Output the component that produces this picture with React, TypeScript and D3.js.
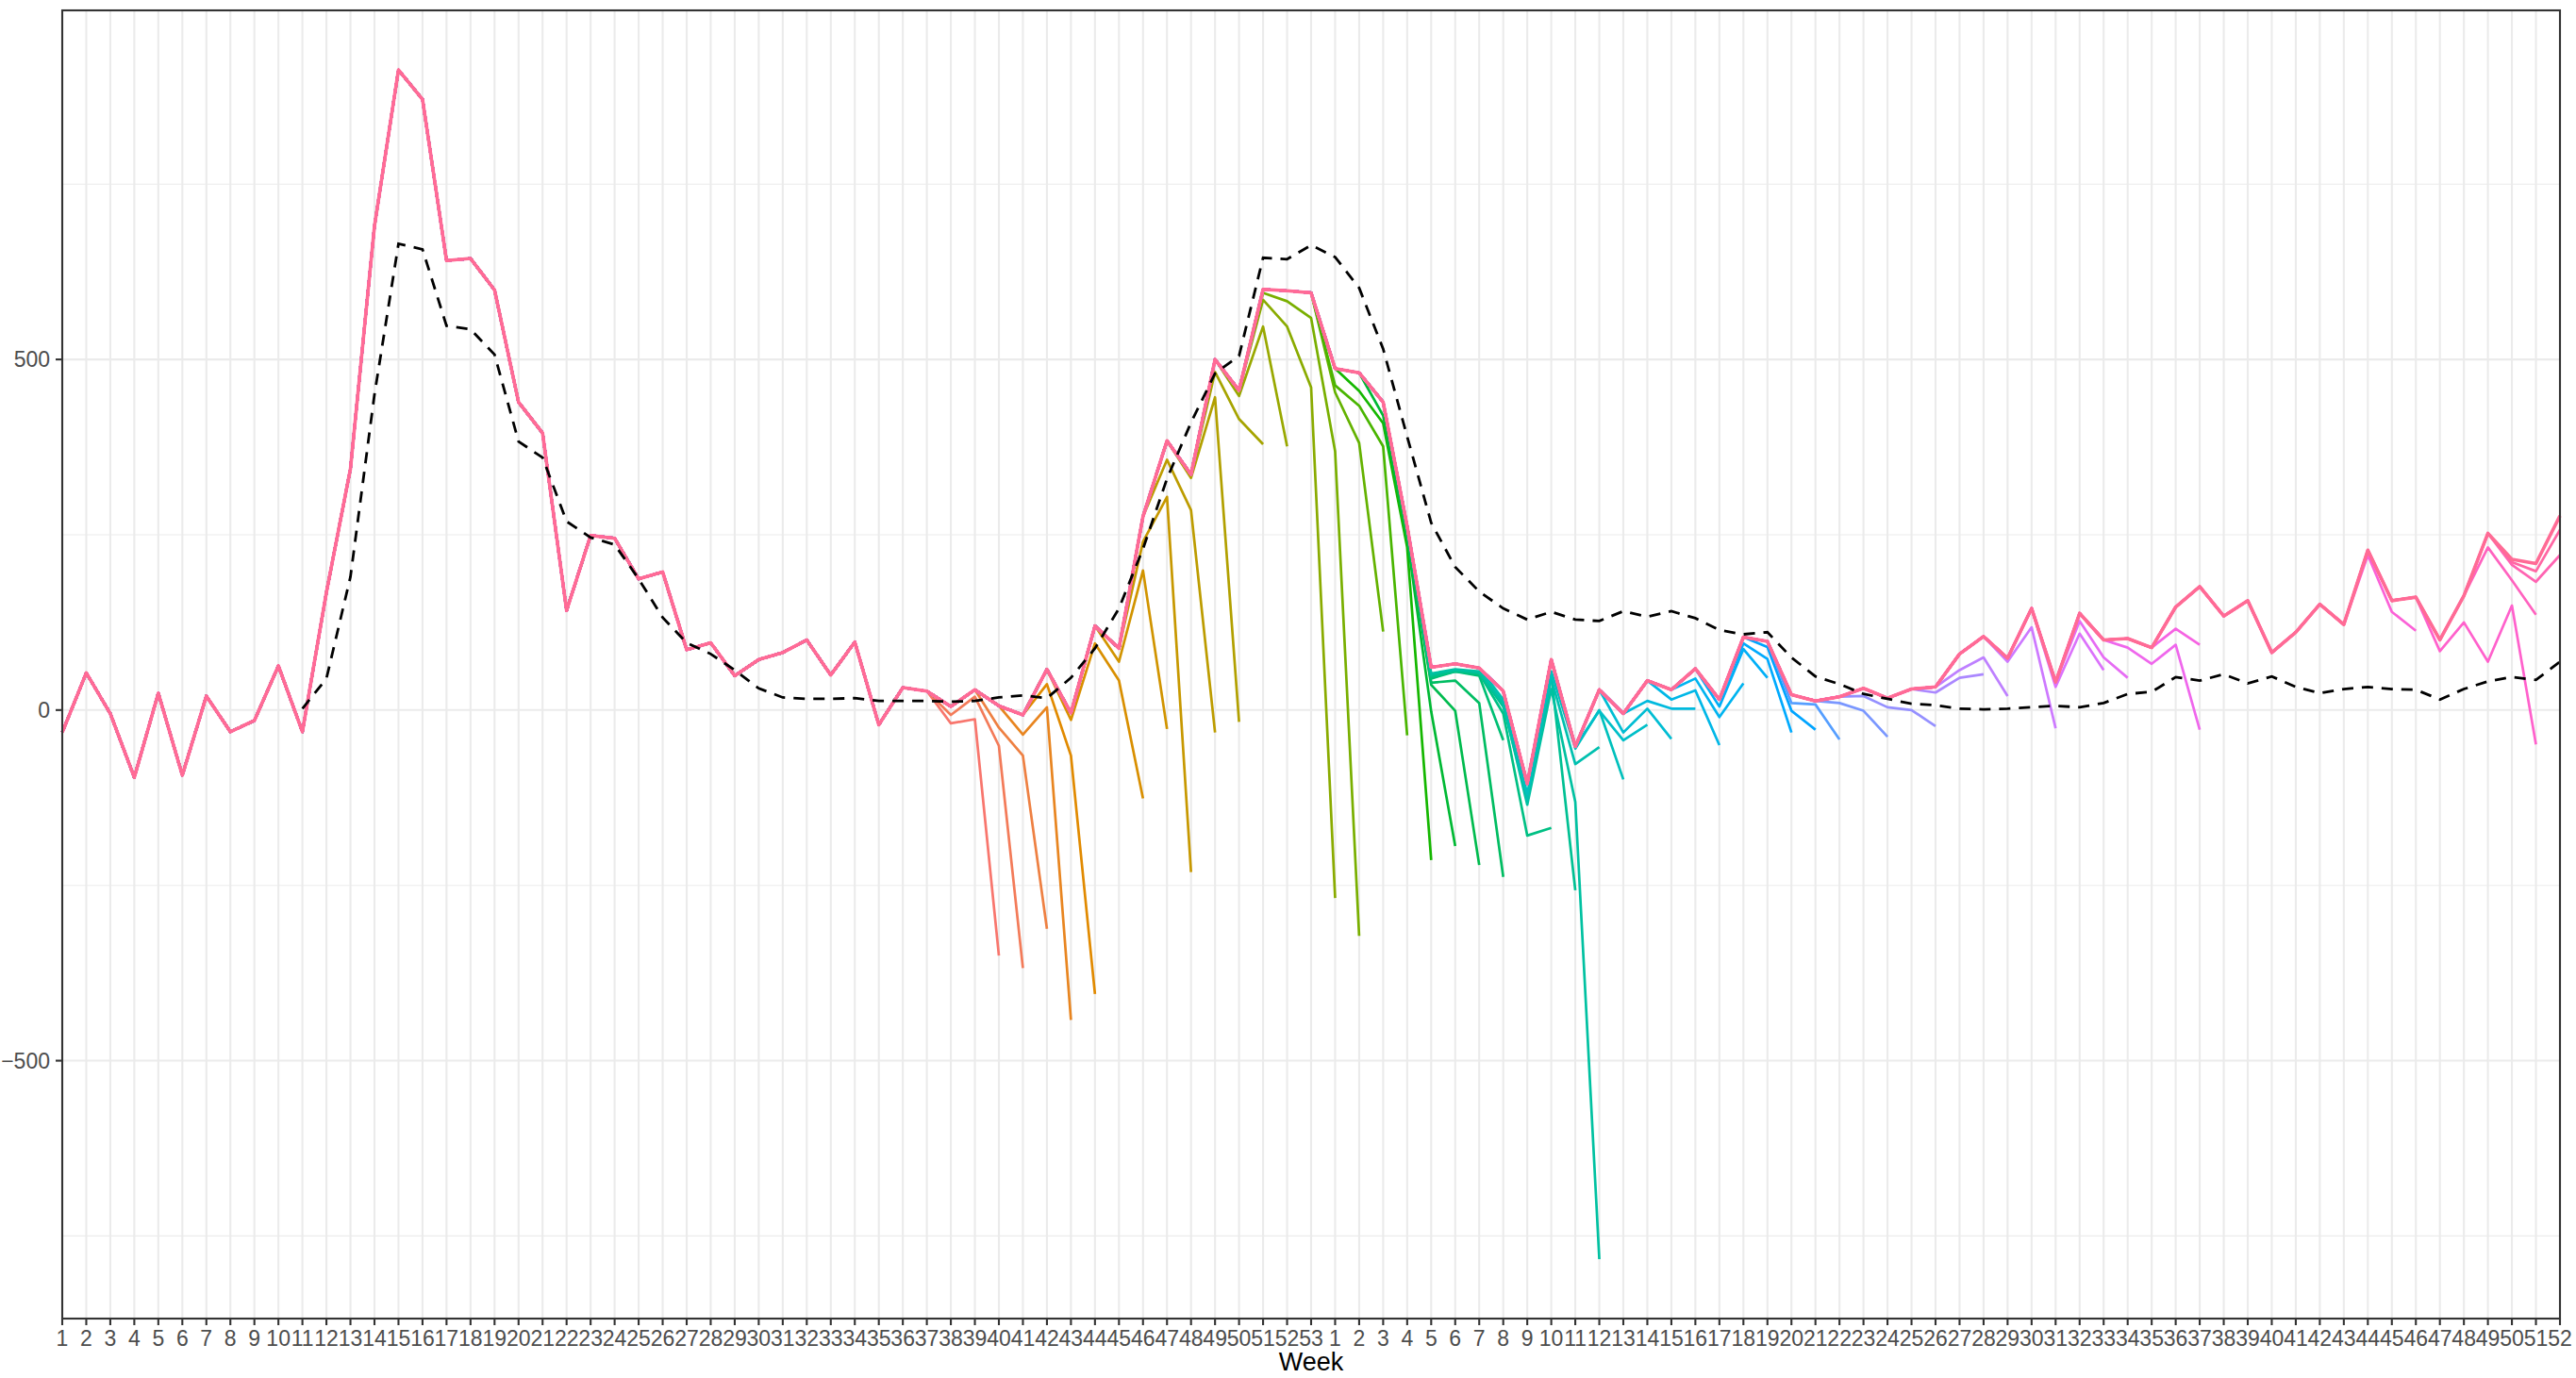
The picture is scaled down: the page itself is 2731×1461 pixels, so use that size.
import React from 'react';
import * as d3 from 'd3';

const W = 2731;
const H = 1461;

// Tick labels: weeks of the first year (53) and the second year (52)
const year1Weeks: number[] = d3.range(1, 54);
const year2Weeks: number[] = d3.range(1, 53);
const weekLabels: string[] = [...year1Weeks, ...year2Weeks].map(String);

const yTickValues = [-500, 0, 500];
const yMinorValues = [-750, -250, 250, 750];

// Latest vintage (complete series)
const latestY1 = [-32, 53, -5, -96, 24, -93, 20, -31, -15, 63, -31, 168, 344, 690, 913, 871, 641, 644, 599, 439, 395, 142, 249, 245, 187, 197, 86, 96, 49, 72, 82, 100, 50, 97, -21, 32, 27, 5, 29, 6, -7, 58, -4, 120, 88, 276, 384, 336, 500, 456, 600, 598, 595];
const latestY2 = [487, 481, 439, 262, 61, 66, 60, 27, -105, 72, -52, 29, -5, 42, 29, 59, 15, 104, 98, 22, 13, 19, 31, 17, 30, 33, 80, 105, 74, 145, 40, 138, 100, 102, 89, 147, 176, 134, 156, 82, 111, 151, 122, 228, 156, 161, 100, 163, 252, 215, 209, 277];

// Dashed reference series
const dashedY1: (number | null)[] = [null, null, null, null, null, null, null, null, null, null, 2, 45, 190, 450, 665, 657, 548, 543, 507, 383, 360, 269, 246, 236, 187, 132, 96, 80, 57, 31, 18, 16, 16, 17, 13, 13, 13, 12, 13, 18, 21, 17, 46, 88, 145, 230, 330, 410, 480, 505, 645, 643, 663];
const dashedY2: (number | null)[] = [646, 602, 515, 390, 267, 204, 169, 145, 129, 140, 129, 127, 141, 133, 141, 131, 114, 108, 111, 75, 48, 37, 23, 16, 9, 7, 2, 1, 2, 4, 6, 4, 10, 23, 26, 47, 42, 51, 38, 48, 33, 24, 30, 33, 30, 29, 15, 30, 41, 47, 43, 69];

// Earlier vintages: index (0-based position on the week axis) of their last week
const vintageEnd = [39, 40, 41, 42, 43, 45, 46, 47, 48, 49, 50, 51, 53, 54, 55, 56, 57, 58, 59, 60, 60, 62, 63, 64, 64, 65, 66, 67, 68, 69, 70, 71, 72, 73, 74, 76, 78, 80, 81, 83, 85, 86, 89, 89, 98, 103, 103, 104, 104, 104];
// Values of the last weeks of each vintage where it departs from the latest one
const vintageTail: number[][] = [
  [-19, -13, -350],
  [-7, 19, -51, -368],
  [-25, -65, -312],
  [-35, 4, -442],
  [37, -65, -405],
  [-14, 95, 42, -126],
  [69, 199, -27],
  [240, 304, -231],
  [357, 285, -32],
  [331, 446, -17],
  [482, 415, 379],
  [448, 547, 376],
  [585, 547, 460, -268],
  [595, 583, 559, 369, -322],
  [453, 381, 112],
  [463, 434, 376, -36],
  [455, 409, 232, -214],
  [420, 245, -2, -194],
  [250, 36, -1, -221],
  [255, 39, 42, 10, -238],
  [45, 55, 49, -43],
  [48, 55, 52, -5, -179, -168],
  [50, 57, 53, 5, -125, 50, -257],
  [52, 58, 55, 10, -135, 30, -131, -783],
  [15, -128, 45, -77, -53],
  [-120, 55, -55, 0, -99],
  [-1, -43, -21],
  [-32, 2, -41],
  [13, 2, 2],
  [15, 28, -50],
  [45, -10, 38],
  [5, 87, 46],
  [95, 73, -32],
  [90, -1, -28],
  [10, 8, -42],
  [10, -1, -38],
  [20, 4, 0, -23],
  [25, 46, 51],
  [57, 75, 20],
  [69, 118, -26],
  [33, 109, 57],
  [127, 75, 46],
  [89, 66, 93, -28],
  [116, 93],
  [221, 140, 113],
  [84, 125, 69, 149, -49],
  [232, 185, 136],
  [207, 183, 221],
  [211, 198, 257],
  [],
];

// R-style hcl (polar LUV) -> hex
function hclR(h: number, c: number, l: number): string {
  const Xn = 95.047, Yn = 100.0, Zn = 108.883;
  const hr = (h * Math.PI) / 180;
  const U = c * Math.cos(hr);
  const V = c * Math.sin(hr);
  const Y = l > 7.999592 ? Yn * Math.pow((l + 16) / 116, 3) : (Yn * l) / 903.3;
  const t = Xn + 15 * Yn + 3 * Zn;
  const un = (4 * Xn) / t;
  const vn = (9 * Yn) / t;
  const u = U / (13 * l) + un;
  const v = V / (13 * l) + vn;
  const X = (9.0 * Y * u) / (4 * v);
  const Z = -X / 3 - 5 * Y + (3 * Y) / v;
  const x = X / 100, y = Y / 100, z = Z / 100;
  const lin = [
    3.240479 * x - 1.53715 * y - 0.498535 * z,
    -0.969256 * x + 1.875992 * y + 0.041556 * z,
    0.055648 * x - 0.204043 * y + 1.057311 * z,
  ];
  const g = (q: number) => (q <= 0.0031308 ? 12.92 * q : 1.055 * Math.pow(q, 1 / 2.4) - 0.055);
  const rgb = lin.map((q) => Math.round(Math.max(0, Math.min(1, g(q))) * 255));
  return d3.rgb(rgb[0], rgb[1], rgb[2]).formatHex();
}

const latest = [...latestY1, ...latestY2];
const dashed = [...dashedY1, ...dashedY2];

const vintages: number[][] = vintageEnd.map((end, k) => {
  const tail = vintageTail[k];
  const head = latest.slice(0, end + 1 - tail.length);
  return [...head, ...tail];
});

const PL = 66, PR = 2714, PT = 11, PB = 1398;

export default function App() {
  const n = weekLabels.length;
  const x = d3.scaleLinear().domain([0, n - 1]).range([PL, PR]);
  const all = vintages.flat().concat(dashed.filter((d) => d !== null) as number[]);
  const [mn, mx] = d3.extent(all) as [number, number];
  const pad = (mx - mn) * 0.05;
  const y = d3.scaleLinear().domain([mn - pad, mx + pad]).range([PB, PT]);

  const line = d3
    .line<number>()
    .x((_, i) => x(i))
    .y((d) => y(d));
  const dline = d3
    .line<number | null>()
    .defined((d) => d !== null)
    .x((_, i) => x(i))
    .y((d) => y(d as number));

  const N = vintages.length;
  const colors = vintages.map((_, k) => hclR(15 + (343 * k) / (N - 1), 100, 65));

  const font = "'Liberation Sans', Arial, Helvetica, sans-serif";

  return (
    <svg
      width={W}
      height={H}
      style={{ position: 'absolute', left: 0, top: 0, display: 'block', background: '#fff' }}
      xmlns="http://www.w3.org/2000/svg"
    >
      <rect x={0} y={0} width={W} height={H} fill="#fff" />
      {/* grid */}
      {yMinorValues.map((v) => (
        <line key={'mi' + v} x1={PL} x2={PR} y1={y(v)} y2={y(v)} stroke="#EBEBEB" strokeWidth={1.1} />
      ))}
      {yTickValues.map((v) => (
        <line key={'ma' + v} x1={PL} x2={PR} y1={y(v)} y2={y(v)} stroke="#EBEBEB" strokeWidth={2.1} />
      ))}
      {weekLabels.map((_, i) => (
        <line key={'vx' + i} x1={x(i)} x2={x(i)} y1={PT} y2={PB} stroke="#EBEBEB" strokeWidth={2.1} />
      ))}
      {/* vintages */}
      <g fill="none" strokeLinejoin="round" strokeLinecap="butt">
        {vintages.map((vals, k) => (
          <path
            key={'v' + k}
            d={line(vals) || ''}
            stroke={colors[k]}
            strokeWidth={k === N - 1 ? 3.6 : 2.7}
          />
        ))}
      </g>
      <path
        d={dline(dashed) || ''}
        fill="none"
        stroke="#000"
        strokeWidth={2.8}
        strokeDasharray="12 9"
      />
      {/* border */}
      <rect x={PL} y={PT} width={PR - PL} height={PB - PT} fill="none" stroke="#333333" strokeWidth={2.1} />
      {/* y axis */}
      {yTickValues.map((v) => (
        <g key={'yt' + v}>
          <line x1={PL - 7} x2={PL} y1={y(v)} y2={y(v)} stroke="#333333" strokeWidth={2.1} />
          <text
            x={PL - 13}
            y={y(v)}
            dy="0.36em"
            textAnchor="end"
            fontFamily={font}
            fontSize={23}
            fill="#4D4D4D"
          >
            {v < 0 ? '\u2212' + Math.abs(v) : String(v)}
          </text>
        </g>
      ))}
      {/* x axis */}
      {weekLabels.map((lab, i) => (
        <g key={'xt' + i}>
          <line x1={x(i)} x2={x(i)} y1={PB} y2={PB + 7} stroke="#333333" strokeWidth={2.1} />
          <text
            x={x(i)}
            y={PB + 29}
            textAnchor="middle"
            fontFamily={font}
            fontSize={23}
            fill="#4D4D4D"
          >
            {lab}
          </text>
        </g>
      ))}
      <text
        x={(PL + PR) / 2}
        y={H - 8}
        textAnchor="middle"
        fontFamily={font}
        fontSize={27}
        fill="#000"
      >
        Week
      </text>
    </svg>
  );
}
